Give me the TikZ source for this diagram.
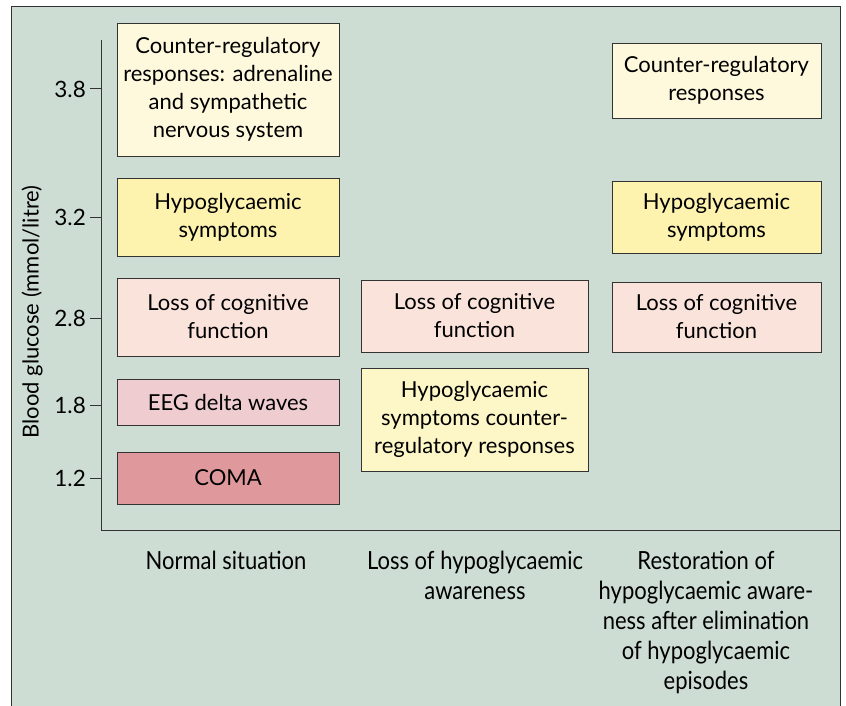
\documentclass[tikz,border=0pt]{standalone}
\usepackage{fontspec}
\setmainfont{Lato}
\newfontfamily\condfont[FakeStretch=0.88]{Lato}
\definecolor{bgc}{HTML}{CDDDD4}
\definecolor{cream}{HTML}{FEF9DC}
\definecolor{yel}{HTML}{FDF2AE}
\definecolor{yel2}{HTML}{FDF6C6}
\definecolor{pinkl}{HTML}{FAE3DB}
\definecolor{eeg}{HTML}{EFCCD0}
\definecolor{coma}{HTML}{DF999D}
\definecolor{edge}{HTML}{333333}
\begin{document}
\begin{tikzpicture}[x=1pt,y=-1pt,
  box/.style={draw=edge, line width=0.9pt, align=center, inner sep=0pt,
    font=\fontsize{22}{28}\selectfont, text=black},
  tick/.style={font=\fontsize{22.5}{24}\selectfont, anchor=east, inner sep=0pt},
  bottomlab/.style={font=\condfont\fontsize{25}{30}\selectfont, align=center, anchor=north, inner sep=0pt},
  axisline/.style={draw=edge, line width=1pt}]
\useasboundingbox (0,0) rectangle (846,706);
\fill[white] (0,0) rectangle (846,706);
\fill[bgc] (11,7) rectangle (840,706);
\draw[axisline] (11,706) -- (11,7) -- (840,7) -- (840,706);
% axes
\coordinate (ytop) at (101,40);
\coordinate (orig) at (101,530);
\coordinate (xend) at (840,530);
\draw[axisline] (ytop) -- (orig) -- (xend);
% ticks
\foreach \v/\y in {3.8/89, 3.2/217, 2.8/318, 1.8/405, 1.2/478}{
  \coordinate (t\y) at (90,\y);
  \coordinate (a\y) at (101,\y);
  \draw[axisline] (t\y) -- (a\y);
  \node[tick] (lab\y) at (86,\y) {\v};
}
\node[rotate=90, font=\fontsize{22}{24}\selectfont] (ylab) at (32,312) {Blood glucose (mmol/litre)};
% column 1
\node[box, fill=cream, minimum width=222pt, minimum height=133pt] (c1a) at (228,89.5) {Counter-regulatory\\responses: adrenaline\\and sympathetic\\nervous system};
\node[box, fill=yel, minimum width=222pt, minimum height=78pt] (c1b) at (228,217) {Hypoglycaemic\\symptoms};
\node[box, fill=pinkl, minimum width=222pt, minimum height=78pt] (c1c) at (228,317) {Loss of cognitive\\function};
\node[box, fill=eeg, minimum width=222pt, minimum height=46pt] (c1d) at (228,402) {EEG delta waves};
\node[box, fill=coma, minimum width=222pt, minimum height=52pt] (c1e) at (228,478) {COMA};
% column 2
\node[box, fill=pinkl, minimum width=227pt, minimum height=72pt] (c2a) at (474.5,316) {Loss of cognitive\\function};
\node[box, fill=yel2, minimum width=227pt, minimum height=103pt] (c2b) at (474.5,419.5) {Hypoglycaemic\\symptoms counter-\\regulatory responses};
% column 3
\node[box, fill=cream, minimum width=209pt, minimum height=75pt] (c3a) at (716.5,80.5) {Counter-regulatory\\responses};
\node[box, fill=yel, minimum width=209pt, minimum height=72pt] (c3b) at (716.5,217) {Hypoglycaemic\\symptoms};
\node[box, fill=pinkl, minimum width=209pt, minimum height=70pt] (c3c) at (716.5,317) {Loss of cognitive\\function};
% bottom labels
\node[bottomlab] (b1) at (226,551) {Normal situation};
\node[bottomlab] (b2) at (475,551) {Loss of hypoglycaemic\\awareness};
\node[bottomlab] (b3) at (706,551) {Restoration of\\hypoglycaemic aware-\\ness after elimination\\of hypoglycaemic\\episodes};
\end{tikzpicture}
\end{document}
